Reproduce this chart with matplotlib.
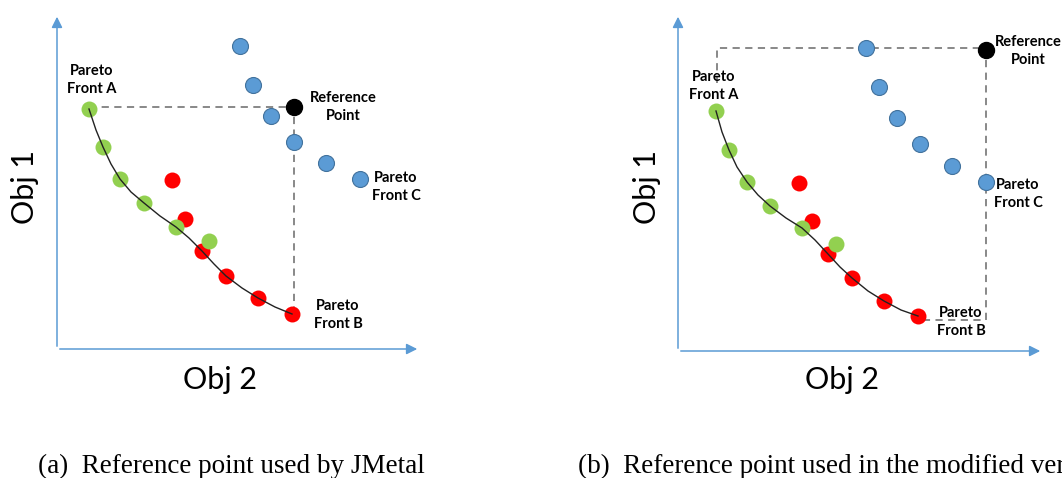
import matplotlib.pyplot as plt

# pixel-style coordinates for the diagram (x right, y down)
# panel (a)
green_a_x = [89, 103, 120, 144, 176, 209]
green_a_y = [109, 147, 179, 203, 227, 241]
red_a_x = [172, 185, 202, 226, 258, 292]
red_a_y = [180, 219, 251, 276, 298, 314]
blue_a_x = [240, 253, 271, 294, 326, 360]
blue_a_y = [46, 85, 116, 142, 163, 179]
ref_a = (294, 107)
curve_a_x = [89, 96, 103, 111, 120, 131, 144, 160, 176, 189, 202, 214, 226, 242, 258, 275, 292]
curve_a_y = [109, 130, 147, 164, 179, 192, 203, 216, 227, 238, 251, 264, 276, 288, 298, 307, 314]
dash_a_x = [89, 294, 294]
dash_a_y = [107, 107, 314]

# panel (b)
green_b_x = [716, 729, 747, 770, 802, 836]
green_b_y = [111, 150, 182, 206, 228, 244]
red_b_x = [799, 812, 828, 852, 884, 918]
red_b_y = [183, 221, 254, 278, 301, 316]
blue_b_x = [866, 879, 897, 920, 952, 986]
blue_b_y = [48, 87, 118, 144, 166, 182]
ref_b = (986, 50)
curve_b_x = [716, 722, 729, 737, 747, 758, 770, 786, 802, 815, 828, 840, 852, 868, 884, 901, 918]
curve_b_y = [111, 132, 150, 167, 182, 195, 206, 218, 228, 240, 254, 267, 278, 291, 301, 310, 316]
dash_b_x = [717, 717, 986, 986, 918]
dash_b_y = [83, 48, 48, 320, 320]

axis_blue = '#5B9BD5'
lab_font = 'Lato'

fig = plt.figure(figsize=(10.62, 4.78), dpi=100)
ax = fig.add_axes([0, 0, 1, 1])
ax.set_xlim(0, 1062)
ax.set_ylim(478, 0)
ax.axis('off')


def panel(ox, x_axis_y, x_tip, gx, gy, rx, ry, bx, by, ref, cx, cy, dx, dy):
    # axes arrows
    arr = dict(arrowstyle='-|>', color=axis_blue, lw=1.1, mutation_scale=16)
    ax.annotate('', xy=(ox, 14), xytext=(ox, x_axis_y), arrowprops=arr)
    ax.annotate('', xy=(x_tip, x_axis_y), xytext=(ox, x_axis_y), arrowprops=arr)
    # dashed box
    ax.plot(dx, dy, color='#7F7F7F', lw=1.3, ls=(0, (4, 3)), zorder=2)
    # points
    ms = 11.5
    ax.plot(bx, by, 'o', ms=ms, color='#5B9BD5', mec='#41719C', mew=0.8, zorder=3)
    ax.plot(rx, ry, 'o', ms=ms, color='#FF0000', mew=0, zorder=3)
    ax.plot(gx, gy, 'o', ms=ms, color='#92D050', mew=0, zorder=4)
    ax.plot(*ref, 'o', ms=ms, color='black', zorder=4)
    ax.plot(cx, cy, color='#222222', lw=1, zorder=5)


panel(57, 349, 420, green_a_x, green_a_y, red_a_x, red_a_y, blue_a_x, blue_a_y,
      ref_a, curve_a_x, curve_a_y, dash_a_x, dash_a_y)
panel(678, 351, 1043, green_b_x, green_b_y, red_b_x, red_b_y, blue_b_x, blue_b_y,
      ref_b, curve_b_x, curve_b_y, dash_b_x, dash_b_y)

lab = dict(fontsize=10.5, fontweight='bold', family=lab_font, ha='center', va='center',
           linespacing=1.3, zorder=6)
ax.text(92, 80, 'Pareto\nFront A', **lab)
ax.text(343, 107, 'Reference\nPoint', **lab)
ax.text(396, 187, 'Pareto\nFront C', **lab)
ax.text(338, 315, 'Pareto\nFront B', **lab)
ax.text(714, 86, 'Pareto\nFront A', **lab)
ax.text(1028, 51, 'Reference\nPoint', clip_on=False, **lab)
ax.text(1018, 194, 'Pareto\nFront C', **lab)
ax.text(961, 322, 'Pareto\nFront B', **lab)

big = dict(fontsize=22, family=lab_font, ha='center', va='center')
ax.text(25, 187, 'Obj 1', rotation=90, **big)
ax.text(220, 380, 'Obj 2', **big)
ax.text(647, 187, 'Obj 1', rotation=90, **big)
ax.text(842, 380, 'Obj 2', **big)

cap = dict(fontsize=19.5, family='Liberation Serif', ha='left', va='center')
ax.text(38, 466, '(a)  Reference point used by JMetal', **cap)
ax.text(578, 466, '(b)  Reference point used in the modified version', **cap)

fig.savefig('out.png', dpi=100)
